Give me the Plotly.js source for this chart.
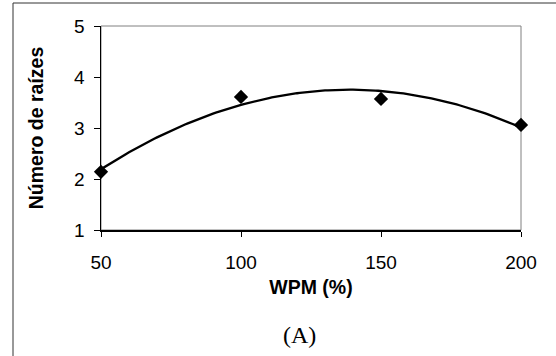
<!DOCTYPE html>
<html>
<head>
<meta charset="utf-8">
<script src="https://cdn.plot.ly/plotly-3.0.1.min.js"></script>
<style>html,body{margin:0;padding:0;background:#fff;}#chart{width:556px;height:356px;}</style>
</head>
<body>
<div id="chart"></div>
<script>
// Data
const wpm = [50, 100, 150, 200];
const raizes = [2.14, 3.61, 3.57, 3.06];
const xTicks = [50, 100, 150, 200];
const yTicks = [1, 2, 3, 4, 5];
const xTitle = 'WPM (%)';
const yTitle = 'Número de raízes';
const panelLabel = '(A)';

// Quadratic (polynomial order 2) least-squares trendline fitted to the data
function quadFit(xs, ys) {
  const n = xs.length;
  let s = [0, 0, 0, 0, 0], t = [0, 0, 0];
  for (let i = 0; i < n; i++) {
    for (let k = 0; k <= 4; k++) s[k] += Math.pow(xs[i], k);
    for (let k = 0; k <= 2; k++) t[k] += ys[i] * Math.pow(xs[i], k);
  }
  const M = [[s[0], s[1], s[2], t[0]], [s[1], s[2], s[3], t[1]], [s[2], s[3], s[4], t[2]]];
  for (let c = 0; c < 3; c++) {
    let p = c;
    for (let r = c + 1; r < 3; r++) if (Math.abs(M[r][c]) > Math.abs(M[p][c])) p = r;
    [M[c], M[p]] = [M[p], M[c]];
    for (let r = 0; r < 3; r++) {
      if (r === c) continue;
      const f = M[r][c] / M[c][c];
      for (let k = c; k < 4; k++) M[r][k] -= f * M[c][k];
    }
  }
  return [M[0][3] / M[0][0], M[1][3] / M[1][1], M[2][3] / M[2][2]];
}
const coef = quadFit(wpm, raizes);
const trendX = [], trendY = [];
for (let i = 0; i <= 150; i++) {
  const x = wpm[0] + (wpm[wpm.length - 1] - wpm[0]) * i / 150;
  trendX.push(x);
  trendY.push(coef[0] + coef[1] * x + coef[2] * x * x);
}

const traces = [
  {x: trendX, y: trendY, mode: 'lines', line: {color: '#000', width: 2.3}, hoverinfo: 'skip', cliponaxis: false},
  {x: wpm, y: raizes, mode: 'markers', marker: {symbol: 'diamond', size: 11, color: '#000'}, cliponaxis: false}
];

const layout = {
  width: 556, height: 356,
  margin: {l: 101, r: 35, t: 26, b: 126},
  paper_bgcolor: '#fff', plot_bgcolor: '#fff',
  showlegend: false,
  font: {family: 'Liberation Sans, Arial, sans-serif', color: '#000'},
  xaxis: {
    range: [50, 200], tickvals: xTicks, ticktext: xTicks.map(String),
    showgrid: false, zeroline: false, showline: true, linecolor: '#000', linewidth: 1.5,
    ticks: 'outside', ticklen: 5, tickcolor: '#000', tickwidth: 1, ticklabelstandoff: 10,
    tickfont: {size: 19, family: 'Liberation Sans, Arial, sans-serif'},
    title: {text: xTitle, font: {size: 19.5, family: 'Liberation Sans, Arial, sans-serif', weight: 'bold'}, standoff: 8},
    automargin: false
  },
  yaxis: {
    range: [1, 5], tickvals: yTicks, ticktext: yTicks.map(String),
    showgrid: false, zeroline: false, showline: true, linecolor: '#000', linewidth: 1.5,
    ticks: 'outside', ticklen: 6, tickcolor: '#000', tickwidth: 1, ticklabelstandoff: 5,
    tickfont: {size: 19, family: 'Liberation Sans, Arial, sans-serif'},
    title: {text: yTitle, font: {size: 19.5, family: 'Liberation Sans, Arial, sans-serif', weight: 'bold'}, standoff: 25},
    automargin: false
  },
  shapes: [
    {type: 'rect', xref: 'paper', yref: 'paper', x0: 0, x1: 1, y0: 0, y1: 1, line: {color: '#808080', width: 1}, layer: 'below'},
    {type: 'line', xref: 'paper', yref: 'paper', x0: -0.2095, x1: -0.2095, y0: -1.0, y1: 1.1127, line: {color: '#333', width: 1}},
    {type: 'line', xref: 'paper', yref: 'paper', x0: -0.2095, x1: 1.2, y0: 1.1127, y1: 1.1127, line: {color: '#333', width: 1}}
  ],
  annotations: [
    {text: panelLabel, xref: 'paper', yref: 'paper', x: 0.4738, y: -0.515, xanchor: 'center', yanchor: 'middle',
     showarrow: false, font: {family: 'Liberation Serif, Times New Roman, serif', size: 24, color: '#000'}}
  ]
};

Plotly.newPlot('chart', traces, layout, {displayModeBar: false, staticPlot: true});
</script>
</body>
</html>
